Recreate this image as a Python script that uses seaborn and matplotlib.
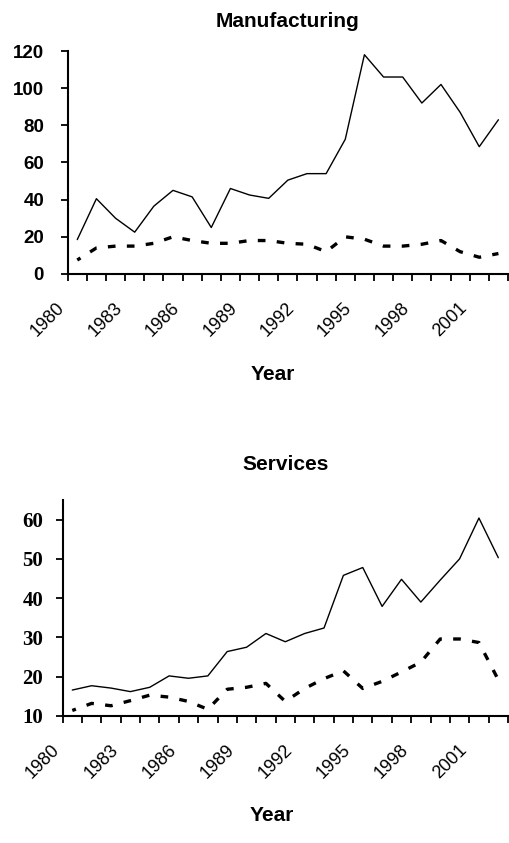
import numpy as np
import pandas as pd
import seaborn as sns
import matplotlib.pyplot as plt
from matplotlib.transforms import ScaledTranslation

# data
years = [1980, 1981, 1982, 1983, 1984, 1985, 1986, 1987, 1988, 1989, 1990, 1991,
         1992, 1993, 1994, 1995, 1996, 1997, 1998, 1999, 2000, 2001, 2002]
tick_years = [1980, 1983, 1986, 1989, 1992, 1995, 1998, 2001]

mfg_solid = [18.5, 40.5, 30, 22.5, 36.5, 45, 41.5, 25, 46, 42.5, 40.7, 50.5,
             54, 54, 72.5, 118, 106, 106, 92, 102, 87, 68.5, 83]
mfg_dashed = [7.5, 14, 15, 15, 16.5, 20, 18, 16.5, 16.5, 18, 18, 16.5,
              16, 12, 20, 18.7, 15, 15, 16, 18, 12, 9, 11]

svc_solid = [16.6, 17.7, 17.1, 16.2, 17.3, 20.2, 19.6, 20.2, 26.4, 27.5, 31, 28.9,
             31, 32.4, 45.8, 47.8, 37.9, 44.8, 39, 44.6, 50, 60.4, 50.3]
svc_dashed = [11.4, 13.2, 12.6, 13.9, 15.3, 14.8, 13.7, 11.7, 16.8, 17.3, 18.3, 13.7,
              17, 19.5, 21.5, 17, 18.8, 21.2, 23.7, 29.6, 29.6, 28.7, 19.2]

sns.set_style('ticks')
plt.rcParams['font.family'] = ['Liberation Sans', 'DejaVu Sans']
plt.rcParams.update({'text.color': 'black', 'axes.labelcolor': 'black',
                     'xtick.color': 'black', 'ytick.color': 'black'})

fig = plt.figure(figsize=(5.09, 8.43), dpi=100)
ax1 = fig.add_axes([0.133, 0.675, 0.865, 0.2645])
ax2 = fig.add_axes([0.123, 0.1507, 0.875, 0.2562])


def draw_panel(ax, solid, dashed, title, title_pad, yticks, ylim, yfont, ypad, xlab_pos):
    df = pd.DataFrame({'pos': range(len(years)), 'solid': solid, 'dashed': dashed})
    sns.lineplot(data=df, x='pos', y='solid', ax=ax, color='black', lw=1.0)
    sns.lineplot(data=df, x='pos', y='dashed', ax=ax, color='black', lw=2.4,
                 linestyle=(1.15, (2.3, 3.4)))

    ax.set_xlim(-0.5, len(years) - 0.5)
    ax.set_ylim(*ylim)
    ax.set_yticks(yticks)
    ax.set_yticklabels([str(v) for v in yticks], fontdict=yfont)

    # category boundaries get the tick marks, labels sit at the categories
    ax.set_xticks(np.arange(-0.5, len(years), 1), minor=True)
    ax.set_xticks([years.index(y) for y in tick_years])
    ax.set_xticklabels([str(y) for y in tick_years], rotation=45, ha='right',
                       va='top', fontsize=13)
    ax.tick_params(axis='x', which='major', length=0, pad=18)
    ax.tick_params(axis='x', which='minor', length=5, width=1.3, color='black')
    ax.tick_params(axis='y', length=5, width=1.3, color='black', pad=ypad)
    for lab in ax.get_xticklabels():
        lab.set_transform(lab.get_transform() + ScaledTranslation(-0.09, 0, fig.dpi_scale_trans))

    sns.despine(ax=ax)
    for s in ['left', 'bottom']:
        ax.spines[s].set_linewidth(1.5)
        ax.spines[s].set_color('black')

    ax.set_title(title, fontsize=15, fontweight='bold', pad=title_pad)
    ax.set_xlabel('Year', fontsize=15, fontweight='bold')
    ax.xaxis.set_label_coords(*xlab_pos)
    ax.set_ylabel('')


draw_panel(ax1, mfg_solid, mfg_dashed, 'Manufacturing', 17,
           [0, 20, 40, 60, 80, 100, 120], (0, 120),
           {'family': 'Liberation Sans', 'weight': 'bold', 'size': 13.5}, 12,
           (0.466, -0.408))
draw_panel(ax2, svc_solid, svc_dashed, 'Services', 21.6,
           [10, 20, 30, 40, 50, 60], (10, 65),
           {'family': 'Liberation Serif', 'weight': 'bold', 'size': 15}, 9,
           (0.469, -0.417))

fig.savefig('out.png', dpi=100)
